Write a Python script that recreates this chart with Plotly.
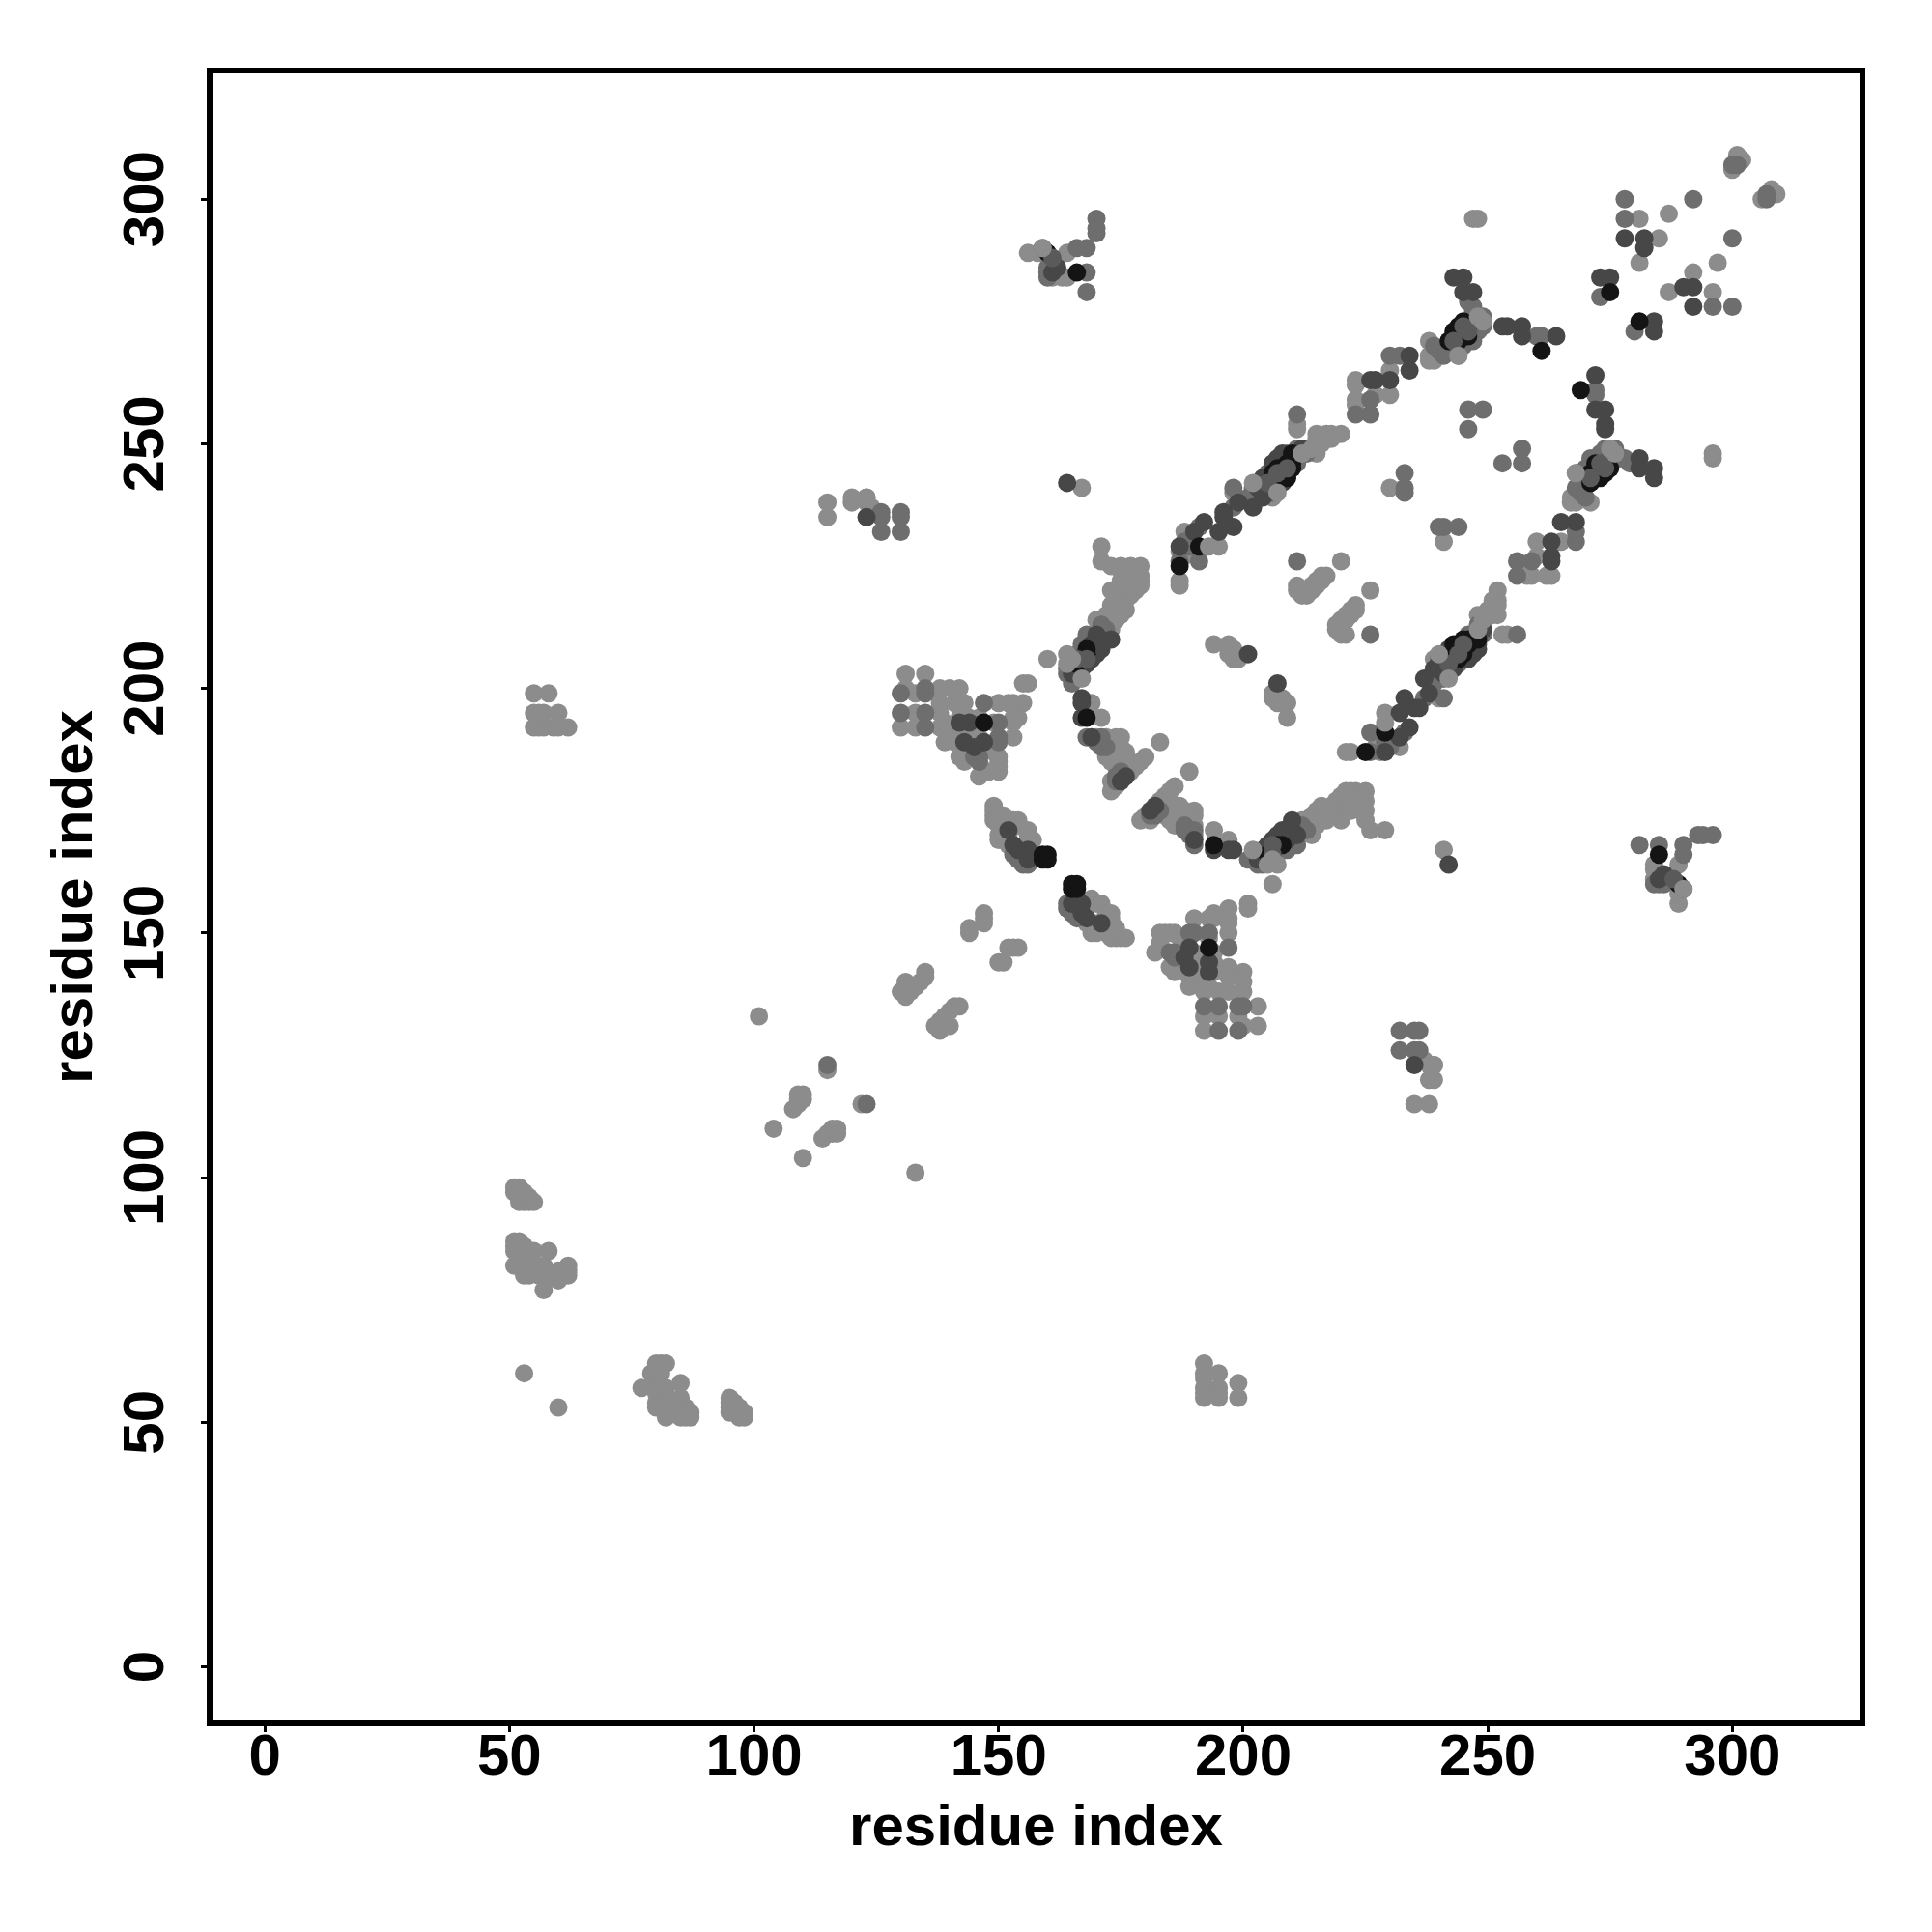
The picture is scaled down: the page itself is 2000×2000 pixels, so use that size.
import plotly.graph_objects as go

tick_vals = [0, 50, 100, 150, 200, 250, 300]
axis_title = "residue index"

# contacts with first residue > second residue; the map is symmetric
light_pairs = [
 (308,302),(309,301),(306,300),(297,287),(296,281),(287,281),(292,285),
 (268,244),(267,238),(267,239),(271,238),(268,238),(265,230),(260,230),(260,227),(259,223),(258,223),
 (263,223),(262,223),(252,220),(252,218),(252,217),(251,218),(250,216),(251,215),(252,215),(249,213),(253,211),(254,211),(248,215),
 (239,206),(240,198),(229,195),(232,188),(227,188),(221,187),(222,187),(228,187),
 (241,230),(241,167),(296,247),(296,248),(226,220),(223,217),(222,216),(221,215),(220,214),(219,212),(221,211),(220,213),(220,211),(219,213),(221,214),(222,215),(223,216),
 (209,194),(209,197),(207,197),(206,198),(206,199),(208,198),
 (289,164),(289,156),(284,164),(284,161),(284,163),(289,158),
 (229,171),(226,171),(225,179),(225,177),(225,175),(225,173),(224,178),(223,179),(222,179),(221,179),(220,178),(219,177),(218,176),(217,175),(216,176),(215,175),(214,174),(213,172),(214,170),(213,173),(222,177),(222,175),(221,175),(219,174),(218,174),(216,173),(224,175),(220,173),(217,173),(212,173),(215,172),
 (201,156),(201,155),(206,160),(194,171),(197,169),
 (190,175),(190,174),(190,172),(190,170),(189,173),(187,176),(187,174),(187,172),(186,180),(185,179),(184,178),(183,177),(180,174),(179,173),(181,173),(183,175),(184,174),(185,173),(186,172),(188,175),(184,176),(186,174),(185,177),(189,183),
 (170,156),(169,157),(171,156),(172,154),(173,154),(173,153),(169,150),(170,150),(173,149),(174,149),(175,149),(176,149),(172,150),(171,151),(170,152),(172,152),(174,151),(168,152),
 (197,155),(197,153),(197,152),(197,150),(194,154),(194,153),(190,153),(193,153),(186,150),(183,150),(185,150),(182,146),(186,142),(185,143),(189,139),(189,141),(197,143),(197,141),(200,142),(200,140),(200,138),(192,138),(195,138),(197,138),(192,133),(195,133),(192,130),(203,135),(203,131),(200,131),(199,133),(199,135),(193,139),(190,140),(192,140),
 (190,146),(191,145),(191,143),(190,142),(194,146),(194,144),(194,142),(192,143),(193,149),(188,149),(187,149),(183,148),(184,150),
 (153,147),(154,147),(150,144),(151,144),(152,147),
 (142,135),(141,135),(140,134),(139,133),(138,132),(137,131),(138,130),(139,131),(140,131),
 (133,101),(122,115),(114,108),(115,109),(116,109),(116,110),(117,110),(117,109),(110,104),
 (98,51),(97,51),(96,52),(95,52),(95,53),(95,54),(95,55),(96,54),(97,53),(98,52),(97,52),
 (80,62),(81,62),(82,62),(79,60),(80,59),(80,58),(80,56),(80,54),(80,53),(82,57),(82,55),(82,53),(82,51),(77,57),(85,58),(85,55),(86,53),(86,51),(85,52),(87,52),(87,51),(84,53),(85,51),(81,60),
 (60,53),
 (192,62),(192,60),(192,59),(192,57),(192,56),(192,55),(195,60),(195,57),(195,56),(195,55),(199,58),(199,55),
 (238,123),(239,123),(238,120),(239,120),(235,115),(238,115),
 (239,123),(237,124),
]
mid_pairs = [
 (300,292),(307,301),(307,300),(300,278),(296,278),(296,170),(199,130),
 (280,273),(272,260),(272,261),(274,249),(276,249),(277,247),(279,246),(268,241),(268,230),(256,226),(256,223),(259,226),(268,232),
 (241,233),(240,233),(244,233),(257,249),(257,246),(253,246),(237,198),(241,198),(226,191),(233,191),(226,187),(229,189),(230,188),
 (256,211),(226,211),(281,168),(285,168),(290,166),(293,170),(294,170),(290,168),(285,160),(284,160),(286,160),(290,159),
 (232,130),(235,130),(236,130),(232,126),(235,126),(236,126),(123,115),
 (192,135),(195,135),(199,135),(200,135),(195,130),(186,146),(185,146),(186,145),(197,147),(193,150),(190,150),(189,150),
 (212,172),(213,171),(164,156),(164,155),(165,154),(166,153),(190,168),(201,165),(202,165),(203,164),
 (238,202),(239,203),(240,206),(241,206),(242,207),(243,208),(244,209),(246,211),(247,211),(248,213),(239,201),(241,202),(243,205),(244,205),(246,207),(247,208),(248,209),(249,211),
 (270,243),(270,245),(271,247),(273,248),(275,247),(276,247),(278,247),(269,240),(270,239),(269,241),
 (207,166),(208,167),(209,168),(210,169),(204,164),(211,172),(183,175),(181,174),(182,174),(188,172),(188,171),(189,170),(190,171),
 (212,171),(211,168),(210,168),(209,167),
]
dark_pairs = [
 (284,245),(284,243),(281,247),(281,245),(284,275),(284,273),(272,264),(272,257),(263,230),(263,227),(263,226),(268,234),(265,234),
 (233,198),(232,195),(237,202),(240,205),(241,205),(241,203),(239,204),(240,204),(242,208),(248,211),(249,212),(229,187),(232,190),(234,192),(235,196),(236,196),(238,199),
 (242,164),(193,144),(193,142),(189,147),(188,145),(189,143),(211,170),(210,171),(209,169),(204,165),(203,165),(197,167),(198,167),(194,167),(190,169),
 (167,154),(165,156),(166,157),(167,156),(168,153),(292,278),(292,282),(290,282),(285,161),(286,162),(274,257),(274,254),(274,253),(207,201),(182,176),(181,175),(171,152),(235,123),
 (204,167),(205,168),(206,169),(207,170),(208,171),(209,171),(210,173),
 (243,204),(245,206),(246,206),(247,207),(248,208),
]
black_pairs = [
 (281,275),(269,261),(229,191),(225,187),(205,166),(206,167),(207,168),(208,168),(165,159),(166,159),(166,160),(165,160),(193,147),(285,166),(289,160),
 (243,207),(244,208),(245,208),(246,209),(247,210),(244,206),(245,207),(242,206),(243,209),(246,210),(248,210),(245,210),
 (275,245),(274,244),(273,243),(272,246),(271,244),(272,243),(273,245),(274,246),(271,242),(194,168),(273,244),(272,244),
]
top_mid_pairs = [
 (244,207),(245,209),(242,205),
 (274,245),(273,246),(271,243),
 (206,168),(206,166),(288,161),
]
top_light_pairs = [
 (268,244),(240,207),(242,202),(202,167),(207,164),(206,165),(205,164),(290,159),(229,193),(276,248),(275,249),(248,212),(249,214),
]

groups = [
 (light_pairs, "#8c8c8c"),
 (mid_pairs, "#6e6e6e"),
 (dark_pairs, "#474747"),
 (black_pairs, "#141414"),
 (top_mid_pairs, "#5a5a5a"),
 (top_light_pairs, "#8c8c8c"),
]

fig = go.Figure()
for pairs, colour in groups:
    a = [p[0] for p in pairs]
    b = [p[1] for p in pairs]
    fig.add_trace(go.Scatter(x=a + b, y=b + a, mode="markers",
                             marker=dict(size=19, color=colour, line=dict(width=0)),
                             showlegend=False, hoverinfo="skip"))

font = dict(family="Liberation Sans", size=60, color="black", weight="bold")
axis = dict(tickmode="array", tickvals=tick_vals,
            ticks="outside", ticklen=6, tickwidth=3, tickcolor="black",
            showline=True, linewidth=6, linecolor="black", mirror=True,
            showgrid=False, zeroline=False, tickfont=font)
fig.update_layout(
    width=2000, height=2000, autosize=False, showlegend=False,
    paper_bgcolor="white", plot_bgcolor="white",
    margin=dict(l=212, r=83, t=68, b=227, autoexpand=False),
    xaxis=dict(axis, range=[-10.7, 326.0], ticklabelstandoff=-28,
               title=dict(text=axis_title, font=font, standoff=21)),
    yaxis=dict(axis, range=[-10.96, 325.7], tickangle=-90, ticklabelstandoff=15, ticklabelshift=9,
               title=dict(text=axis_title, font=font, standoff=2)),
)
fig.write_html("out.html")
